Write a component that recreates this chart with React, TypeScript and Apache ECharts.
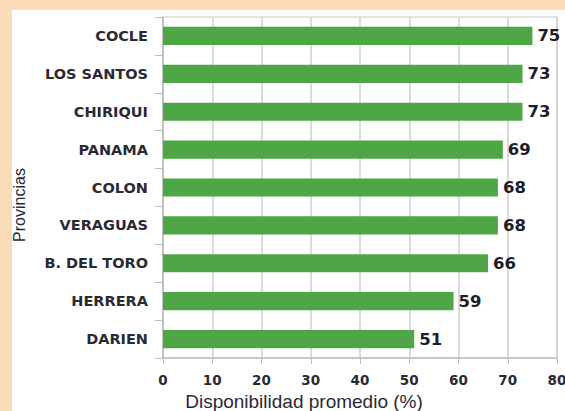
import React, { useEffect, useRef } from "react";
import * as echarts from "echarts";

const provinces = ["COCLE", "LOS SANTOS", "CHIRIQUI", "PANAMA", "COLON", "VERAGUAS", "B. DEL TORO", "HERRERA", "DARIEN"];
const values = [75, 73, 73, 69, 68, 68, 66, 59, 51];
const xTicks = [0, 10, 20, 30, 40, 50, 60, 70, 80];

export default function App() {
  const ref = useRef<HTMLDivElement>(null);
  useEffect(() => {
    document.body.style.margin = "0";
    const chart = echarts.init(ref.current!, null, { renderer: "svg" });
    chart.setOption({
      animation: false,
      backgroundColor: "#fbdcb8",
      graphic: [
        { type: "rect", z: -10, shape: { x: 12, y: 10, width: 560, height: 410 }, style: { fill: "#ffffff" } },
      ],
      grid: {
        left: 163, right: 8, top: 17, bottom: 53,
        outerBoundsMode: "none", containLabel: false,
        show: true, borderColor: "#c8c8c8", borderWidth: 1, backgroundColor: "transparent",
      },
      xAxis: {
        type: "value",
        min: xTicks[0],
        max: xTicks[xTicks.length - 1],
        interval: 10,
        name: "Disponibilidad promedio (%)",
        nameLocation: "middle",
        nameGap: 33,
        nameTextStyle: { fontFamily: "Liberation Sans", fontSize: 19, color: "#2a2a35", padding: [0, 112, 0, 0] },
        axisLine: { show: true, lineStyle: { color: "#bdbdbd", width: 1.5 } },
        axisTick: { show: true, length: 6, lineStyle: { color: "#bdbdbd" } },
        axisLabel: { fontFamily: "DejaVu Sans", fontSize: 13.5, fontWeight: "bold", color: "#2a2a35", margin: 15 },
        splitLine: { show: true, lineStyle: { color: "#cfcfcf", width: 1.5 } },
      },
      yAxis: {
        type: "category",
        data: provinces,
        inverse: true,
        name: "Provincias",
        nameLocation: "middle",
        nameGap: 135.5,
        nameRotate: 90,
        nameTextStyle: { fontFamily: "Liberation Sans", fontSize: 16, color: "#2a2a35", padding: [0, 35, 0, 0] },
        axisLine: { show: true, lineStyle: { color: "#bdbdbd", width: 1.5 } },
        axisTick: { show: true, length: 8, lineStyle: { color: "#bdbdbd" } },
        axisLabel: { fontFamily: "DejaVu Sans", fontSize: 14.5, fontWeight: "bold", color: "#2a2a35", margin: 15 },
        splitLine: { show: false },
      },
      series: [
        {
          type: "bar",
          data: values,
          barWidth: "48%",
          itemStyle: { color: "#4fa646" },
          label: {
            show: true,
            position: "right",
            distance: 5,
            fontFamily: "DejaVu Sans",
            fontSize: 16.5,
            fontWeight: "bold",
            color: "#1e1e28",
          },
        },
      ],
    });
    return () => chart.dispose();
  }, []);
  return <div ref={ref} style={{ width: 565, height: 411 }} />;
}
